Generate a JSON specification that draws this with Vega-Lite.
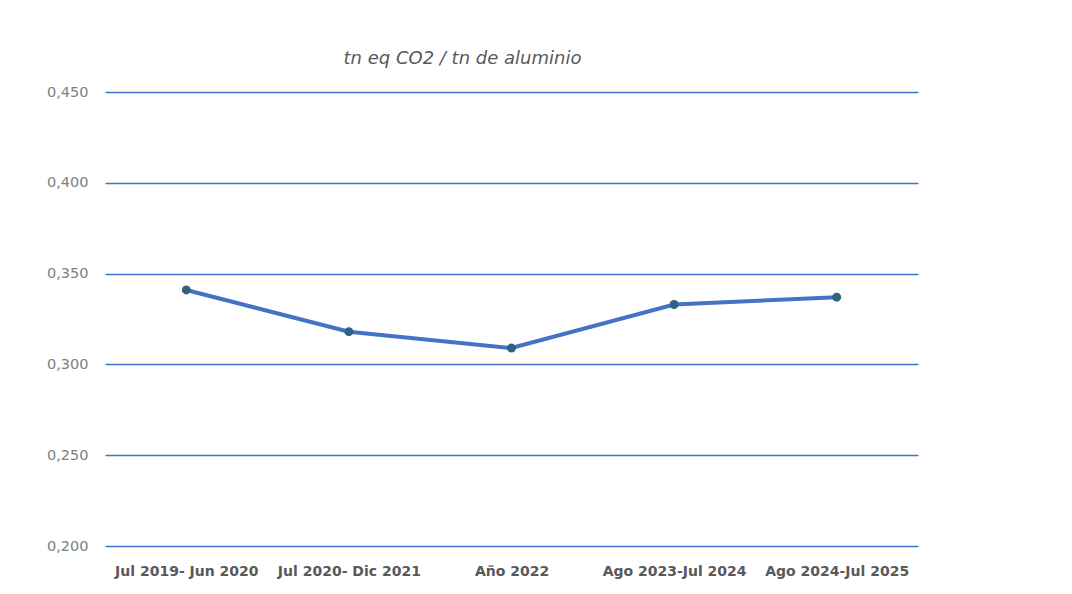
{
  "$schema": "https://vega.github.io/schema/vega-lite/v6.json",
  "autosize": "none",
  "width": 813,
  "height": 454,
  "padding": {"left": 105, "top": 92, "right": 154, "bottom": 48},
  "background": "white",
  "title": {
    "text": "tn eq CO2 / tn de aluminio",
    "anchor": "start",
    "dx": 297,
    "offset": 16,
    "font": "DejaVu Sans",
    "fontSize": 18,
    "fontStyle": "italic",
    "fontWeight": "normal",
    "color": "#595959"
  },
  "data": {
    "values": [
      {"periodo": "Jul 2019- Jun 2020", "valor": 0.341},
      {"periodo": "Jul 2020- Dic 2021", "valor": 0.318},
      {"periodo": "Año 2022", "valor": 0.309},
      {"periodo": "Ago 2023-Jul 2024", "valor": 0.333},
      {"periodo": "Ago 2024-Jul 2025", "valor": 0.337}
    ]
  },
  "encoding": {
    "x": {
      "field": "periodo",
      "type": "nominal",
      "sort": null,
      "title": null,
      "axis": {
        "labelAngle": 0,
        "domain": false,
        "ticks": false,
        "labelPadding": 18,
        "labelFont": "DejaVu Sans",
        "labelFontSize": 14,
        "labelFontWeight": "bold",
        "labelColor": "#595959"
      }
    },
    "y": {
      "field": "valor",
      "type": "quantitative",
      "title": null,
      "scale": {"domain": [0.2, 0.45], "nice": false, "zero": false},
      "axis": {
        "values": [0.2, 0.25, 0.3, 0.35, 0.4, 0.45],
        "labelExpr": "replace(format(datum.value, '.3f'), '.', ',')",
        "domain": false,
        "ticks": false,
        "labelPadding": 17,
        "labelFont": "DejaVu Sans",
        "labelFontSize": 14.5,
        "labelColor": "#808080",
        "gridColor": "#4472C4",
        "gridWidth": 1.5,
        "gridOpacity": 1
      }
    }
  },
  "layer": [
    {
      "mark": {"type": "line", "color": "#4472C4", "strokeWidth": 4}
    },
    {
      "mark": {"type": "point", "filled": true, "color": "#2F6380", "size": 80, "opacity": 1}
    }
  ],
  "config": {"view": {"stroke": null}}
}
